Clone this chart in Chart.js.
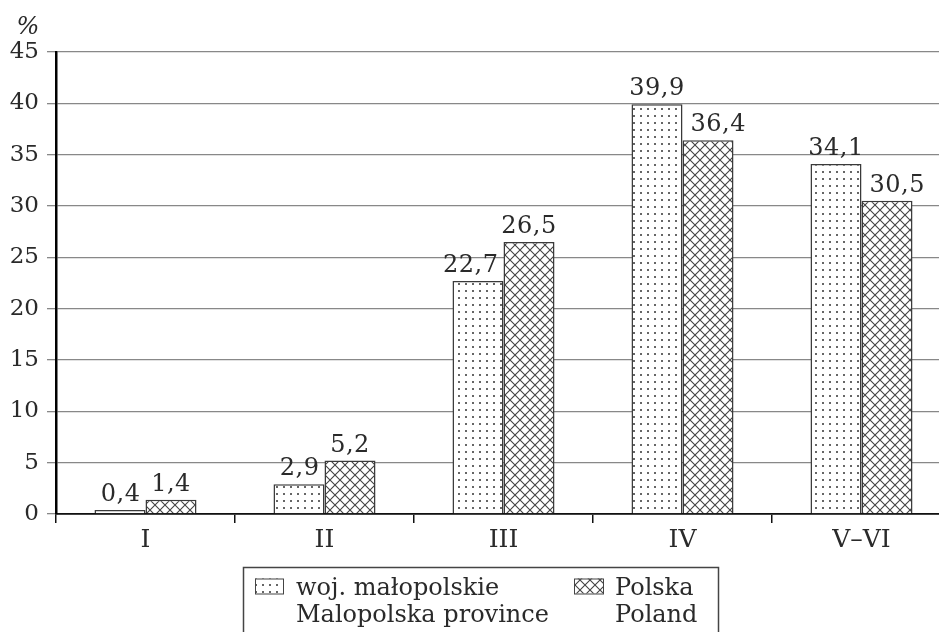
<!DOCTYPE html>
<html><head><meta charset="utf-8">
<script src="https://cdn.jsdelivr.net/npm/chart.js@4/dist/chart.umd.min.js"></script>
<style>
html,body{margin:0;padding:0;background:#fff;overflow:hidden;}
#wrap{position:relative;width:939px;height:632px;overflow:hidden;}
#c{position:absolute;left:0;top:0;}
</style></head><body>
<div id="wrap"><canvas id="c" width="951" height="660" style="width:951px;height:660px"></canvas></div>
<script>
const categories = ['I', 'II', 'III', 'IV', 'V\u2013VI'];
const malopolska = [0.4, 2.9, 22.7, 39.9, 34.1];
const polska = [1.4, 5.2, 26.5, 36.4, 30.5];
const seriesNames = [['woj. małopolskie', 'Malopolska province'], ['Polska', 'Poland']];
const yTicks = [0, 5, 10, 15, 20, 25, 30, 35, 40, 45];
const unitLabel = '%';

const FONT = '"DejaVu Serif", "Liberation Serif", serif';
const TXT = '#2a2a2a';

function dotPattern() {
  const t = document.createElement('canvas'); t.width = 7; t.height = 7;
  const g = t.getContext('2d');
  g.fillStyle = '#fff'; g.fillRect(0, 0, 7, 7);
  g.fillStyle = '#666'; g.fillRect(3, 3, 2, 2);
  return document.getElementById('c').getContext('2d').createPattern(t, 'repeat');
}
function crossPattern() {
  const s = 10;
  const t = document.createElement('canvas'); t.width = s; t.height = s;
  const g = t.getContext('2d');
  g.fillStyle = '#fff'; g.fillRect(0, 0, s, s);
  g.strokeStyle = '#444'; g.lineWidth = 1.1;
  g.beginPath();
  g.moveTo(0, 0); g.lineTo(s, s);
  g.moveTo(s, 0); g.lineTo(0, s);
  g.stroke();
  return document.getElementById('c').getContext('2d').createPattern(t, 'repeat');
}
const pDots = dotPattern();
const pCross = crossPattern();

const labelPlugin = {
  id: 'valueLabels',
  afterDatasetsDraw(chart) {
    const ctx = chart.ctx;
    ctx.save();
    ctx.font = '24px ' + FONT;
    if ('letterSpacing' in ctx) ctx.letterSpacing = '0.5px';
    ctx.fillStyle = TXT;
    ctx.textBaseline = 'alphabetic';
    const d0 = chart.data.datasets[0].data, d1 = chart.data.datasets[1].data;
    chart.data.datasets.forEach((ds, di) => {
      const meta = chart.getDatasetMeta(di);
      meta.data.forEach((bar, i) => {
        const v = ds.data[i];
        const other = di === 0 ? d1[i] : d0[i];
        const txt = v.toFixed(1).replace('.', ',');
        let x = bar.x, align = 'center';
        if (v < other) {
          if (di === 0) { align = 'right'; x = bar.x + bar.width / 2 - 5; }
          else { align = 'left'; x = bar.x - bar.width / 2 + 8; }
        }
        ctx.textAlign = align;
        ctx.fillText(txt, x, bar.y - 9);
      });
    });
    ctx.restore();
  }
};

const extrasPlugin = {
  id: 'extras',
  afterDraw(chart) {
    const ctx = chart.ctx, a = chart.chartArea;
    ctx.save();
    ctx.font = 'italic 24px ' + FONT;
    ctx.fillStyle = TXT;
    ctx.textAlign = 'center';
    ctx.textBaseline = 'alphabetic';
    ctx.fillText(unitLabel, 28, a.top - 18);
    const bx = 243.5, by = a.bottom + 53.5, bw = 475, bh = 80;
    ctx.strokeStyle = '#444'; ctx.lineWidth = 1.5;
    ctx.strokeRect(bx, by, bw, bh);
    const items = [
      { x: 255, w: 28, pat: pDots, tx: 296 },
      { x: 574, w: 29, pat: pCross, tx: 615 }
    ];
    ctx.font = '24px ' + FONT;
    ctx.textAlign = 'left';
    items.forEach((it, k) => {
      ctx.fillStyle = it.pat;
      ctx.fillRect(it.x, by + 11, it.w, 15);
      ctx.strokeStyle = '#444'; ctx.lineWidth = 1;
      ctx.strokeRect(it.x + 0.5, by + 11.5, it.w, 15);
      ctx.fillStyle = TXT;
      ctx.fillText(seriesNames[k][0], it.tx, by + 27);
      ctx.fillText(seriesNames[k][1], it.tx, by + 54);
    });
    ctx.restore();
  }
};

new Chart(document.getElementById('c'), {
  type: 'bar',
  data: {
    labels: categories,
    datasets: [
      { label: seriesNames[0].join(' '), data: malopolska, backgroundColor: pDots, borderColor: '#3a3a3a', borderWidth: 1.5, borderSkipped: 'bottom' },
      { label: seriesNames[1].join(' '), data: polska, backgroundColor: pCross, borderColor: '#3a3a3a', borderWidth: 1.5, borderSkipped: 'bottom' }
    ]
  },
  options: {
    responsive: false,
    animation: false,
    devicePixelRatio: 1,
    layout: { padding: { top: 52, left: 0, right: 0, bottom: 106 } },
    plugins: { legend: { display: false }, tooltip: { enabled: false } },
    datasets: { bar: { categoryPercentage: 0.57, barPercentage: 1.0 } },
    scales: {
      x: {
        grid: { offset: true, drawOnChartArea: false, tickLength: 9, color: '#111', lineWidth: 1.5 },
        border: { color: '#111', width: 1.8 },
        ticks: { font: { family: FONT, size: 25 }, color: TXT, padding: 2 },
        afterFit(s) { s.height = 40; }
      },
      y: {
        min: 0, max: 45,
        afterBuildTicks(s) { s.ticks = yTicks.map(v => ({ value: v })); },
        grid: { color: '#888', lineWidth: 1.3, tickLength: 9 },
        border: { color: '#000', width: 2.5 },
        ticks: { font: { family: FONT, size: 23 }, color: TXT, padding: 8 },
        afterFit(s) { s.width = 56; }
      }
    }
  },
  plugins: [labelPlugin, extrasPlugin]
});
</script>
</body></html>
